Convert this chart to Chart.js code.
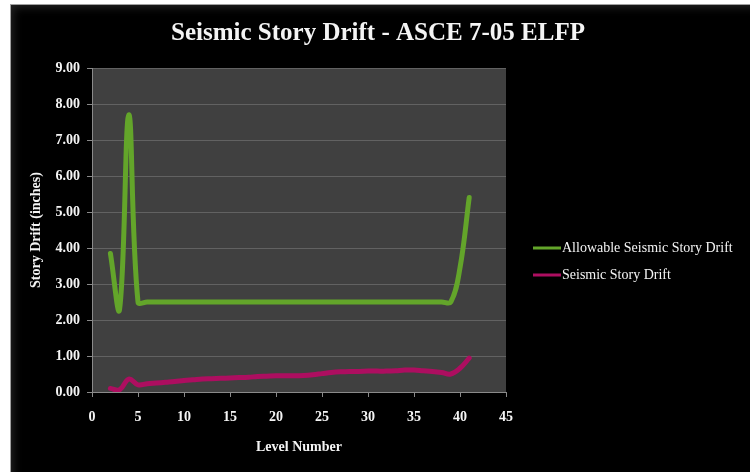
<!DOCTYPE html>
<html>
<head>
<meta charset="utf-8">
<script src="https://cdn.jsdelivr.net/npm/chart.js@4.4.1/dist/chart.umd.min.js"></script>
<style>
  html, body { margin: 0; padding: 0; background: #ffffff; width: 750px; height: 472px; overflow: hidden; }
  #frame {
    position: absolute; left: 10px; top: 4px; width: 740px; height: 468px;
    box-sizing: border-box; border-top: 1px solid #a0a0a0; border-left: 1px solid #a0a0a0;
    background: #000000; box-shadow: inset 6px 6px 10px -4px rgba(70,70,70,0.55);
  }
  canvas { display: block; }
</style>
</head>
<body>
<div id="frame"><canvas id="drift" width="739" height="467"></canvas></div>
<script>
// Building levels and story drift values (inches)
const levels = [2, 3, 4, 5, 6, 7, 8, 9, 10, 11, 12, 13, 14, 15, 16, 17, 18, 19, 20, 21,
                22, 23, 24, 25, 26, 27, 28, 29, 30, 31, 32, 33, 34, 35, 36, 37, 38, 39, 40, 41];

const allowableDrift = [3.85, 2.30, 7.70, 2.50, 2.50, 2.50, 2.50, 2.50, 2.50, 2.50,
                        2.50, 2.50, 2.50, 2.50, 2.50, 2.50, 2.50, 2.50, 2.50, 2.50,
                        2.50, 2.50, 2.50, 2.50, 2.50, 2.50, 2.50, 2.50, 2.50, 2.50,
                        2.50, 2.50, 2.50, 2.50, 2.50, 2.50, 2.50, 2.50, 3.45, 5.40];

const seismicDrift = [0.10, 0.06, 0.36, 0.20, 0.23, 0.25, 0.27, 0.29, 0.32, 0.34,
                      0.36, 0.37, 0.38, 0.39, 0.40, 0.41, 0.43, 0.44, 0.45, 0.45,
                      0.45, 0.46, 0.48, 0.51, 0.54, 0.56, 0.57, 0.57, 0.58, 0.58,
                      0.58, 0.59, 0.61, 0.61, 0.59, 0.57, 0.54, 0.50, 0.66, 0.94];

const seriesNames = ['Allowable Seismic Story Drift', 'Seismic Story Drift'];
const seriesColors = ['#63a52a', '#ad0e60'];

const chartTitle = 'Seismic Story Drift - ASCE 7-05 ELFP';
const xAxisTitle = 'Level Number';
const yAxisTitle = 'Story Drift (inches)';

const serif = "'Liberation Serif', 'Times New Roman', serif";
const textColor = '#f4f4f4';

const toPoints = (vals) => levels.map((lv, i) => ({ x: lv, y: vals[i] }));

// Dark plot-area fill behind the gridlines
const plotBackground = {
  id: 'plotBackground',
  beforeDraw(chart) {
    const { ctx, chartArea: a } = chart;
    ctx.save();
    ctx.fillStyle = '#404040';
    ctx.fillRect(a.left, a.top, a.right - a.left, a.bottom - a.top);
    ctx.restore();
  }
};

// Chart heading and side legend
const headingAndLegend = {
  id: 'headingAndLegend',
  afterDraw(chart) {
    const ctx = chart.ctx;
    ctx.save();
    ctx.fillStyle = textColor;
    ctx.textAlign = 'center';
    ctx.textBaseline = 'middle';
    ctx.font = 'bold 25px ' + serif;
    ctx.fillText(chartTitle, 367, 29);

    ctx.textAlign = 'left';
    ctx.font = '14px ' + serif;
    chart.data.datasets.forEach((ds, i) => {
      const y = 243 + i * 27;
      ctx.strokeStyle = ds.borderColor;
      ctx.lineWidth = 3;
      ctx.beginPath();
      ctx.moveTo(522, y);
      ctx.lineTo(550, y);
      ctx.stroke();
      ctx.fillStyle = textColor;
      ctx.fillText(ds.label, 551, y);
    });
    ctx.restore();
  }
};

new Chart(document.getElementById('drift'), {
  type: 'line',
  data: {
    datasets: [
      { label: seriesNames[0], data: toPoints(allowableDrift), borderColor: seriesColors[0] },
      { label: seriesNames[1], data: toPoints(seismicDrift), borderColor: seriesColors[1] }
    ]
  },
  options: {
    responsive: false,
    animation: false,
    events: [],
    layout: { padding: { top: 63, right: 244, left: 0, bottom: 0 } },
    elements: {
      point: { radius: 0 },
      line: { tension: 0.4, borderWidth: 5, borderCapStyle: 'round', borderJoinStyle: 'round', fill: false }
    },
    plugins: {
      legend: { display: false },
      title: { display: false },
      tooltip: { enabled: false }
    },
    scales: {
      x: {
        type: 'linear',
        min: 0, max: 45,
        ticks: { stepSize: 5, color: textColor, font: { family: serif, size: 14, weight: 'bold' }, padding: 12, maxRotation: 0 },
        grid: { drawOnChartArea: false, drawTicks: true, tickLength: 5, color: '#8a8a8a' },
        border: { color: '#8a8a8a' },
        title: { display: true, text: xAxisTitle, color: textColor, font: { family: serif, size: 14, weight: 'bold' }, padding: { bottom: 16.5 } },
        afterFit(s) { s.height = 80; }
      },
      y: {
        min: 0, max: 9,
        ticks: { stepSize: 1, color: textColor, font: { family: serif, size: 14, weight: 'bold' }, padding: 7,
                 callback: (v) => Number(v).toFixed(2) },
        grid: { color: '#626262', tickLength: 5, tickColor: '#8a8a8a' },
        border: { color: '#8a8a8a' },
        title: { display: true, text: yAxisTitle, color: textColor, font: { family: serif, size: 14, weight: 'bold' }, padding: { top: 16.5 } },
        afterFit(s) { s.width = 81; }
      }
    }
  },
  plugins: [plotBackground, headingAndLegend]
});
</script>
</body>
</html>
